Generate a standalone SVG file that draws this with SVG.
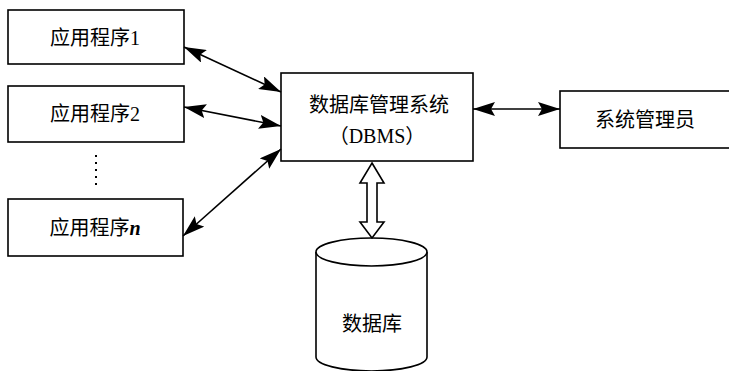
<svg xmlns="http://www.w3.org/2000/svg" width="729" height="371" viewBox="0 0 729 371">
<style>
.box{fill:#fff;stroke:#000;stroke-width:1.6}
.t{font-family:"Liberation Serif","Noto Sans CJK SC",serif;font-size:20px;fill:#000;text-anchor:middle}
.c{stroke:#000;stroke-width:1.6;fill:none}
</style>
<defs>
<marker id="ah" viewBox="0 0 22 14" refX="22" refY="7" markerWidth="22" markerHeight="14" markerUnits="userSpaceOnUse" orient="auto-start-reverse">
<path d="M0,0 L22,7 L0,14 L4,7 Z" fill="#000"/>
</marker>
</defs>
<rect width="729" height="371" fill="#fff"/>
<g id="app1"><rect class="box" x="8" y="10" width="176" height="54"/><text class="t" x="95" y="45">应用程序1</text></g>
<g id="app2"><rect class="box" x="8" y="86" width="176" height="56"/><text class="t" x="95" y="121">应用程序2</text></g>
<g id="dots"><line x1="96" y1="155" x2="96" y2="190" stroke="#000" stroke-width="2" stroke-dasharray="2,5"/></g>
<g id="appn"><rect class="box" x="8" y="199" width="175" height="57"/><text class="t" x="95" y="235">应用程序<tspan font-style="italic" font-weight="bold">n</tspan></text></g>
<g id="dbms"><rect class="box" x="281" y="73" width="192" height="88"/><text class="t" x="379" y="112" font-size="21">数据库管理系统</text><text class="t" x="377" y="143" font-size="21">（DBMS）</text></g>
<g id="admin"><rect class="box" x="560" y="91" width="170" height="57"/><text class="t" x="645" y="127">系统管理员</text></g>
<g id="db"><path class="box" d="M316,252 L316,357 A55.5,14 0 0 0 427,357 L427,252"/><ellipse class="box" cx="371.5" cy="252" rx="55.5" ry="14"/><text class="t" x="372" y="331" font-size="21">数据库</text></g>
<g id="connectors">
<line class="c" x1="184" y1="47" x2="281" y2="92" marker-start="url(#ah)" marker-end="url(#ah)"/>
<line class="c" x1="184" y1="107" x2="281" y2="126" marker-start="url(#ah)" marker-end="url(#ah)"/>
<line class="c" x1="183" y1="236" x2="281" y2="149" marker-start="url(#ah)" marker-end="url(#ah)"/>
<line class="c" x1="473" y1="109" x2="560" y2="109" marker-start="url(#ah)" marker-end="url(#ah)"/>
<path class="box" d="M372,163 L384,183 L377,183 L377,222 L384,222 L372,238 L360,222 L367,222 L367,183 L360,183 Z"/>
</g>
</svg>
